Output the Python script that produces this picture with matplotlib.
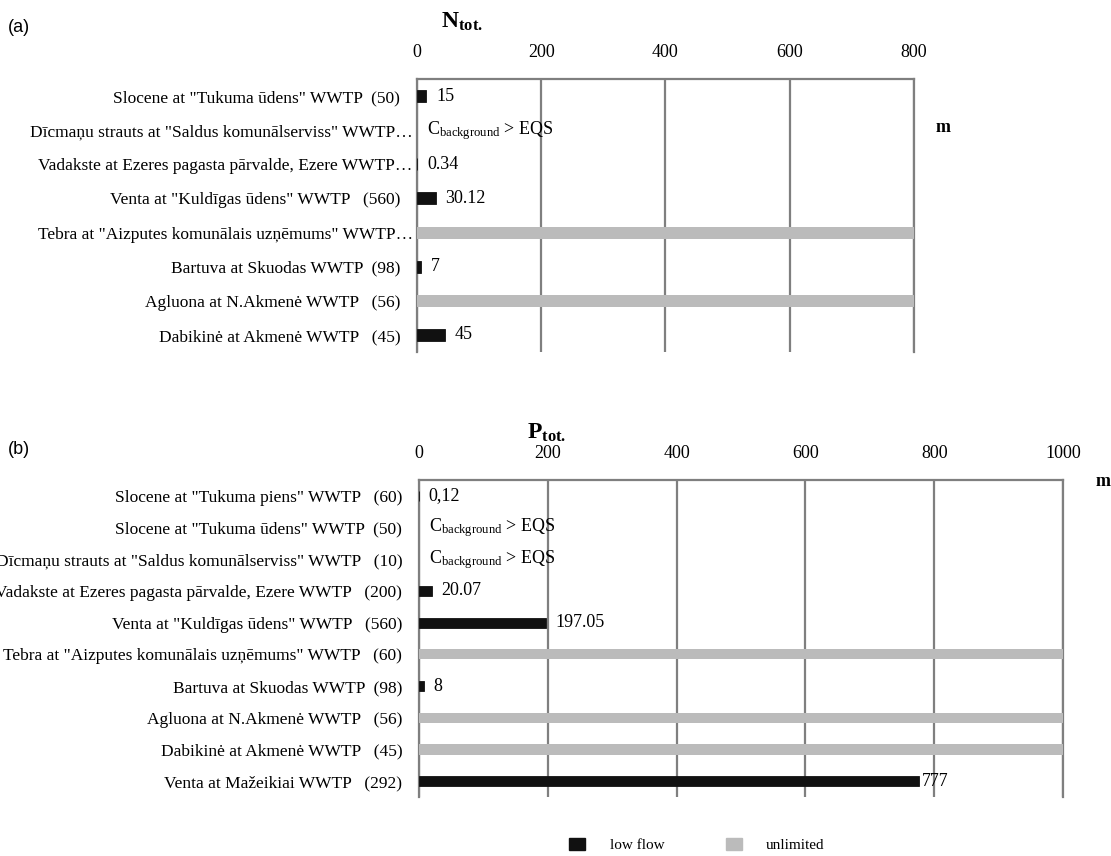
import numpy as np
import matplotlib
matplotlib.use("Agg")
import matplotlib.pyplot as plt
import matplotlib.transforms as mtransforms
from matplotlib.patches import Patch

plt.rcParams['font.family'] = ['Liberation Serif', 'DejaVu Serif']
plt.rcParams['mathtext.fontset'] = 'custom'
plt.rcParams['mathtext.rm'] = 'Liberation Serif'
plt.rcParams['mathtext.it'] = 'Liberation Serif:italic'
plt.rcParams['mathtext.bf'] = 'Liberation Serif:bold'

# ---------------- data ----------------
a_labels = ['Slocene at "Tukuma ūdens" WWTP  (50)',
            'Dīcmaņu strauts at "Saldus komunālserviss" WWTP…',
            'Vadakste at Ezeres pagasta pārvalde, Ezere WWTP…',
            'Venta at "Kuldīgas ūdens" WWTP   (560)',
            'Tebra at "Aizputes komunālais uzņēmums" WWTP…',
            'Bartuva at Skuodas WWTP  (98)',
            'Agluona at N.Akmenė WWTP   (56)',
            'Dabikinė at Akmenė WWTP   (45)']
a_status = ['low', 'bg', 'low', 'low', 'unl', 'low', 'unl', 'low']
a_values = [15, np.nan, 0.34, 30.12, np.nan, 7, np.nan, 45]
a_text = ['15', '', '0.34', '30.12', '', '7', '', '45']
a_ticks = [0, 200, 400, 600, 800]

b_labels = ['Slocene at "Tukuma piens" WWTP   (60)',
            'Slocene at "Tukuma ūdens" WWTP  (50)',
            'Dīcmaņu strauts at "Saldus komunālserviss" WWTP   (10)',
            'Vadakste at Ezeres pagasta pārvalde, Ezere WWTP   (200)',
            'Venta at "Kuldīgas ūdens" WWTP   (560)',
            'Tebra at "Aizputes komunālais uzņēmums" WWTP   (60)',
            'Bartuva at Skuodas WWTP  (98)',
            'Agluona at N.Akmenė WWTP   (56)',
            'Dabikinė at Akmenė WWTP   (45)',
            'Venta at Mažeikiai WWTP   (292)']
b_status = ['low', 'bg', 'bg', 'low', 'low', 'unl', 'low', 'unl', 'unl', 'low']
b_values = [0.12, np.nan, np.nan, 20.07, 197.05, np.nan, 8, np.nan, np.nan, 777]
b_text = ['0,12', '', '', '20.07', '197.05', '', '8', '', '', '777']
b_ticks = [0, 200, 400, 600, 800, 1000]

BG_TEXT = r'C$_{\mathrm{background}}$ > EQS'
LOW_C = '#111111'
UNL_C = '#bbbbbb'
GRID_C = '#7f7f7f'

fig = plt.figure(figsize=(11.11, 8.56), dpi=100)
ax1 = fig.add_axes([0.3753, 0.5888, 0.4474, 0.3189])
ax2 = fig.add_axes([0.3771, 0.0689, 0.5797, 0.3704])


def draw(ax, labels, status, values, texts, ticks, bar_h, lab_off):
    n = len(labels)
    xmax = ticks[-1]
    y = np.arange(n)
    for i in range(n):
        if status[i] == 'low':
            ax.barh(y[i], values[i], height=bar_h, color=LOW_C,
                    edgecolor=LOW_C, linewidth=0.6, zorder=3)
            off = 2 if values[i] > 500 else 7
            ax.annotate(texts[i], (values[i], y[i]), xytext=(off, 0),
                        textcoords='offset points', va='center', ha='left',
                        fontsize=13, zorder=5)
        elif status[i] == 'unl':
            ax.barh(y[i], xmax, height=bar_h, color=UNL_C, zorder=3)
        else:
            ax.annotate(BG_TEXT, (0, y[i]), xytext=(7, 0),
                        textcoords='offset points', va='center', ha='left',
                        fontsize=13, zorder=5)
    ax.set_xlim(0, xmax)
    ax.set_ylim(n - 0.5, -0.5)
    ax.set_xticks(ticks)
    ax.set_xticklabels([str(t) for t in ticks])
    ax.xaxis.tick_top()
    ax.tick_params(axis='x', length=0, pad=13, labelsize=13)
    ax.set_yticks(y)
    ax.set_yticklabels(labels)
    ax.tick_params(axis='y', length=0, pad=12, labelsize=12.5)
    for lab in ax.get_yticklabels():
        if lab.get_text().endswith('…'):
            lab.set_transform(lab.get_transform() +
                              mtransforms.ScaledTranslation(lab_off / 72, 0, fig.dpi_scale_trans))
    ax.grid(axis='x', color=GRID_C, linewidth=1.6, zorder=1)
    ax.set_axisbelow(True)
    for s in ['top', 'left', 'right']:
        ax.spines[s].set_color(GRID_C)
        ax.spines[s].set_linewidth(1.6)
    ax.spines['bottom'].set_visible(False)


draw(ax1, a_labels, a_status, a_values, a_text, a_ticks, 0.35, 9)
draw(ax2, b_labels, b_status, b_values, b_text, b_ticks, 0.32, 9)

# titles and unit labels
fig.text(462 / 1111, 1 - 22 / 856, r'$\mathbf{N}_{\mathbf{tot.}}$', fontsize=17,
         ha='center', va='center')
fig.text(547 / 1111, 1 - 433 / 856, r'$\mathbf{P}_{\mathbf{tot.}}$', fontsize=17,
         ha='center', va='center')
fig.text(936 / 1111, 1 - 128 / 856, 'm', fontsize=13, fontweight='bold',
         ha='left', va='center')
fig.text(1096 / 1111, 1 - 482 / 856, 'm', fontsize=13, fontweight='bold',
         ha='left', va='center')
fig.text(8 / 1111, 1 - 27 / 856, '(a)', fontsize=13, family='Liberation Sans',
         ha='left', va='center')
fig.text(8 / 1111, 1 - 449 / 856, '(b)', fontsize=13, family='Liberation Sans',
         ha='left', va='center')

handles = [Patch(facecolor=LOW_C, edgecolor=LOW_C), Patch(facecolor=UNL_C, edgecolor=UNL_C)]
fig.legend(handles, ['low flow', 'unlimited'], loc='center', ncol=2,
           bbox_to_anchor=(697 / 1111, 1 - 845 / 856), frameon=False,
           fontsize=11, handlelength=1.05, handleheight=0.85,
           handletextpad=1.6, columnspacing=4.0)

fig.savefig('out.png', dpi=100)
